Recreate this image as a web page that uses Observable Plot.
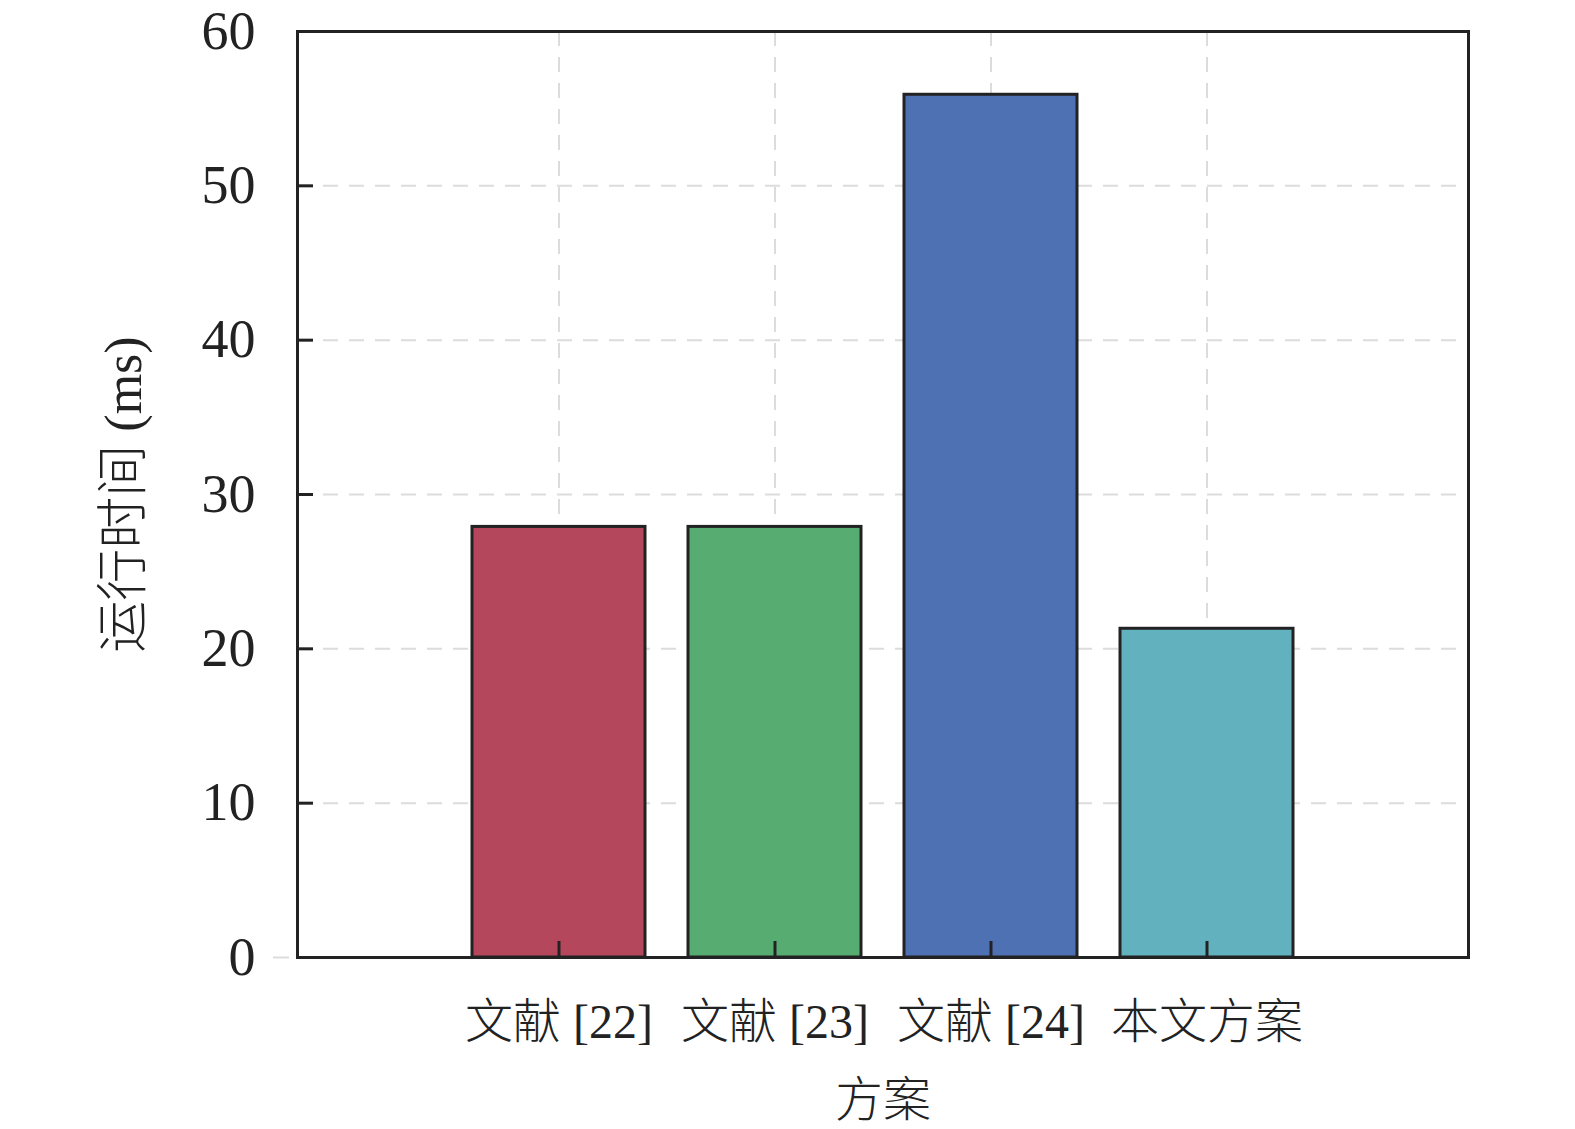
<!DOCTYPE html>
<html>
<head>
<meta charset="utf-8">
<script src="https://cdn.jsdelivr.net/npm/d3@7"></script>
<script src="https://cdn.jsdelivr.net/npm/@observablehq/plot@0.6"></script>
<style>
  html, body { margin: 0; padding: 0; background: #fff; overflow: hidden; }
  #chart svg { display: block; max-width: none !important; }
</style>
</head>
<body>
<div id="chart"></div>
<script>
const categories = ["文献 [22]", "文献 [23]", "文献 [24]", "本文方案"];
const runtimes = [27.9, 27.9, 55.9, 21.3];
const barColors = ["#b5475c", "#57ac72", "#4e71b4", "#61b1bf"];
const yTicks = [0, 10, 20, 30, 40, 50, 60];
const innerYTicks = [10, 20, 30, 40, 50];
const xTitle = "方案";
const yTitle = "运行时间 (ms)";

const data = categories.map((c, i) => ({ name: c, value: runtimes[i] }));
const font = "'Liberation Serif', 'Times New Roman', 'Noto Sans CJK SC', serif";
const ink = "#222";
const grid = "#dcdcdc";

const chart = Plot.plot({
  width: 1575,
  height: 1129,
  marginLeft: 297,
  marginRight: 107,
  marginTop: 31,
  marginBottom: 172,
  style: { background: "#fff", fontFamily: font, color: ink },
  x: { type: "band", domain: categories, paddingInner: 0.2, paddingOuter: 0.8, align: 0.5 },
  y: { domain: [0, 60] },
  color: { domain: categories, range: barColors },
  marks: [
    Plot.gridY(innerYTicks, { stroke: grid, strokeOpacity: 1, strokeWidth: 2, strokeDasharray: "15,11" }),
    Plot.gridX(categories, { stroke: grid, strokeOpacity: 1, strokeWidth: 2, strokeDasharray: "15,11" }),
    Plot.barY(data, { x: "name", y: "value", fill: "name", stroke: ink, strokeWidth: 3 }),
    Plot.axisY({ ticks: [0], tickSize: 16, tickPadding: 0, tickFormat: () => "", stroke: grid, strokeWidth: 2, dx: -8, label: null }),
    Plot.axisY({ ticks: innerYTicks, tickSize: -16, tickFormat: () => "", stroke: ink, strokeWidth: 3, label: null }),
    Plot.axisY({ ticks: yTicks, tickSize: 0, tickPadding: 42, fontSize: 54, fontFamily: font, fill: ink, label: null }),
    Plot.axisX({ ticks: categories, tickSize: -16, tickFormat: () => "", stroke: ink, strokeWidth: 3, label: null }),
    Plot.axisX({ ticks: categories, tickSize: 0, tickPadding: 46, fontSize: 48, fontWeight: 300, fontFamily: font, fill: ink,
      label: xTitle, labelAnchor: "center", labelArrow: "none", labelOffset: 158 }),
    Plot.axisY({ ticks: [], tickSize: 0, label: yTitle, labelAnchor: "center", labelArrow: "none", labelOffset: 193,
      fontSize: 52, fontWeight: 300, fontFamily: font, fill: ink }),
    Plot.frame({ stroke: ink, strokeWidth: 3 })
  ]
});
document.getElementById("chart").appendChild(chart);
</script>
</body>
</html>
